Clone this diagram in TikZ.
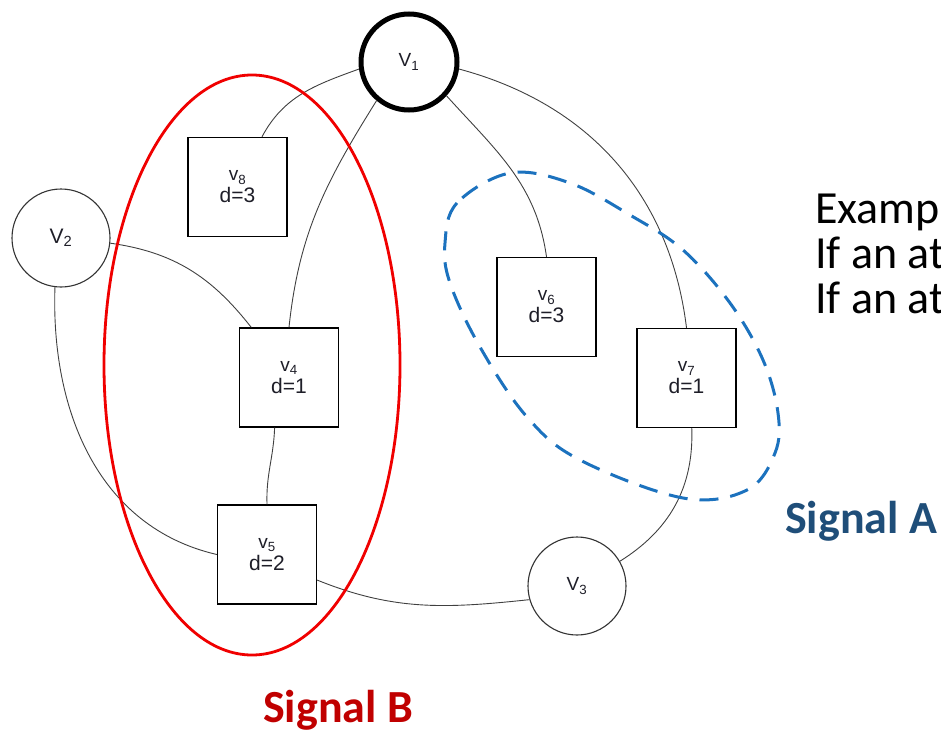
\documentclass[tikz,border=0pt]{standalone}
\usepackage{fontspec}
\setmainfont{Liberation Sans}
\newfontfamily\calibri{Carlito}
\definecolor{labelc}{RGB}{30,30,40}
\definecolor{sigred}{RGB}{192,0,0}
\definecolor{ringred}{RGB}{240,0,0}
\definecolor{sigblue}{RGB}{31,78,121}
\definecolor{ringblue}{RGB}{28,114,190}
\begin{document}
\begin{tikzpicture}[x=1pt,y=1pt,
  vbox/.style={draw=black, line width=1.3pt, fill=white, minimum size=99pt,
    inner sep=0pt, align=center, text=labelc,
    font=\fontsize{21}{22}\selectfont},
  vcirc/.style={circle, draw=black!80, line width=1.1pt, fill=white,
    minimum size=98pt, inner sep=0pt, text=labelc,
    font=\fontsize{19}{20}\selectfont},
  vname/.style={font=\fontsize{19}{19}\selectfont},
  link/.style={draw=black!75, line width=0.9pt},
  sig/.style={font=\calibri\bfseries\fontsize{46}{50}\selectfont, anchor=base west, inner sep=0pt},
  body/.style={font=\calibri\fontsize{46}{45}\selectfont, anchor=base west, inner sep=0pt}
]
\useasboundingbox (0,0) rectangle (941,-736);
\clip (0,0) rectangle (941,-736);

% vertices
\node[vcirc, draw=black, line width=5pt, minimum size=96pt] (v1) at (409,-62) {V\textsubscript{1}};
\node[vcirc] (v2) at (61,-238) {\fontsize{21}{22}\selectfont V\textsubscript{2}};
\node[vcirc] (v3) at (577,-586) {V\textsubscript{3}};
\node[vbox] (v8) at (237.5,-187) {{\fontsize{19}{18}\selectfont v\textsubscript{8}}\\d=3};
\node[vbox] (v4) at (289,-377.5) {{\fontsize{19}{18}\selectfont v\textsubscript{4}}\\d=1};
\node[vbox] (v6) at (546.5,-307) {{\fontsize{19}{18}\selectfont v\textsubscript{6}}\\d=3};
\node[vbox] (v7) at (686.5,-378) {{\fontsize{19}{18}\selectfont v\textsubscript{7}}\\d=1};
\node[vbox] (v5) at (267,-554.5) {{\fontsize{19}{18}\selectfont v\textsubscript{5}}\\d=2};

% connectors
\draw[link] (v1.188) to[out=200,in=62] (v8.64);
\draw[link] (v1.230) to[out=238,in=84] (v4.north);
\draw[link] (v1.318) to[out=312,in=98] (v6.north);
\draw[link] (v1.352) to[out=345,in=97] (v7.north);
\draw[link] (v2.354) to[out=352,in=128] (v4.127);
\draw[link] (v2.263) to[out=268,in=167] (v5.west);
\draw[link] (v4.254) to[out=268,in=92] (v5.north);
\draw[link] (v5.333) to[out=338,in=186] (v3.196);
\draw[link] (v7.276) to[out=272,in=32] (v3.30);

% Signal B region
\draw[ringred, line width=2.8pt] (252,-365) ellipse [x radius=148, y radius=290];

% Signal A region
\draw[ringblue, line width=3pt, dash pattern=on 19pt off 12pt, smooth cycle, tension=0.6]
  plot coordinates {(510,-173) (457,-203) (445,-243) (450,-283) (480,-347)
    (527,-417) (580,-460) (683,-498) (747,-490) (775,-453) (778,-413)
    (763,-360) (730,-303) (683,-250) (630,-215) (570,-183)};

% labels
\node[sig, text=sigblue] (siga) at (785,-533) {Signal A};
\node[sig, text=sigred] (sigb) at (263,-722) {Signal B};
\node[body] (t1) at (815,-223) {Examp};
\node[body] (t2) at (815,-268) {If an at};
\node[body] (t3) at (815,-313) {If an at};
\end{tikzpicture}
\end{document}
